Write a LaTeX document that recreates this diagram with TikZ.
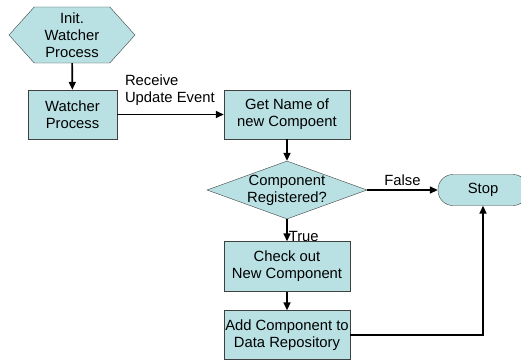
\documentclass[tikz,border=0pt]{standalone}
\usepackage{fontspec}
\setmainfont{Liberation Sans}
\usetikzlibrary{
    positioning,
    arrows.meta,
    shapes.geometric,
    shapes.symbols
}
\definecolor{boxfill}{RGB}{185,225,228}

\begin{document}
\begin{tikzpicture}[x=1pt, y=-1pt,
    font=\fontsize{14.8}{17}\selectfont,
    every node/.style={align=center},
    procbox/.style={draw=black!75, fill=boxfill, rectangle, inner sep=0pt,
        minimum height=49pt},
    flow/.style={line width=1.6pt, -{Triangle[length=8pt, width=7pt]}}
]
    \useasboundingbox (0,0) rectangle (521,361);

    % Start and stop
    \node[draw=black!75, fill=boxfill, signal, signal to=west and east,
        signal pointer angle=96, minimum width=126pt, minimum height=56pt,
        inner sep=0pt] (init) at (72,35) {Init.\\Watcher\\Process};
    \node[draw=black!75, fill=boxfill, rectangle, rounded corners=15pt,
        minimum width=90pt, minimum height=31pt] (stop) at (483,190) {Stop};

    % Process boxes
    \node[procbox, minimum width=89pt] (watcher) at (72.5,114.5) {Watcher\\Process};
    \node[procbox, minimum width=126pt] (getname) at (287,114.5) {Get Name of\\new Compoent};
    \node[procbox, minimum width=126pt, minimum height=50pt] (checkout) at (287,266.5) {Check out\\New Component};
    \node[procbox, minimum width=126pt] (addcomp) at (287,335) {Add Component to\\Data Repository};

    % Decision
    \node[draw=black!75, fill=boxfill, diamond, aspect=2.76, inner sep=-2pt,
        minimum width=160pt, minimum height=58pt] (registered) at (287,190) {Component\\Registered?};

    % Connectors
    \draw[flow] (init) -- (watcher);
    \draw[flow] (watcher) -- node[pos=0, anchor=south west, inner sep=0pt,
        xshift=7pt, yshift=8pt, align=left] {Receive\\Update Event} (getname);
    \draw[flow] (getname) -- (registered);
    \draw[flow] (registered) -- node[above, pos=0.5] {False} (stop);
    \draw[flow] (registered) -- node[right, pos=0.8, inner sep=1pt] {True} (checkout);
    \draw[flow] (checkout) -- (addcomp);
    \draw[flow] (addcomp.east) -| (stop.south);
\end{tikzpicture}
\end{document}
